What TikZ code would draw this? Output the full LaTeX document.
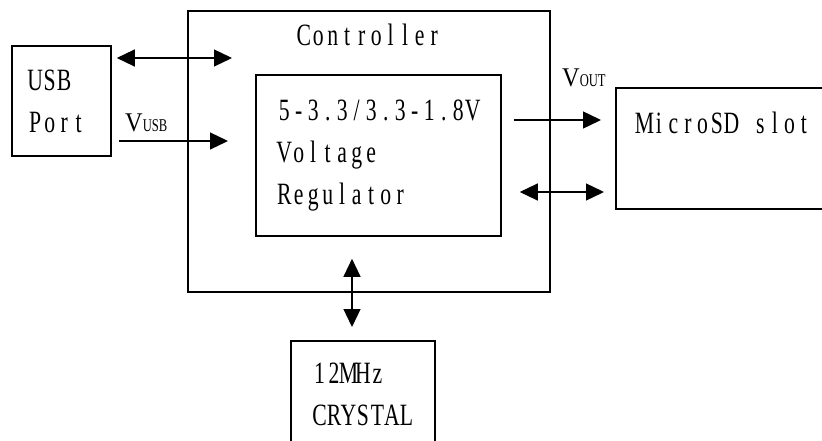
\documentclass[tikz,border=0pt]{standalone}
\usepackage{fontspec}
\setmainfont{Liberation Serif}[FakeStretch=0.7]
\newfontfamily\vfont{Liberation Serif}[FakeStretch=0.9]
\usetikzlibrary{arrows.meta}

% one fixed cell per character (typewriter-like lettering)
\ExplSyntaxOn
\NewDocumentCommand \cells { m }
  { \str_map_inline:nn {#1} { \makebox[14.5pt]{##1} } }
\ExplSyntaxOff

\begin{document}
\begin{tikzpicture}[
    x=1pt, y=-1pt,
    font=\fontsize{31}{42}\selectfont,
    block/.style={draw, line width=1.6pt, inner sep=0pt},
    arrow/.style={-{Triangle[length=18pt, width=17pt]}, line width=1.3pt},
    biarrow/.style={{Triangle[length=18pt, width=17pt]}-{Triangle[length=18pt, width=17pt]}, line width=1.3pt},
    vlabel/.style={inner sep=0pt, anchor=base west, font=\vfont\fontsize{27}{27}\selectfont},
  ]
    \useasboundingbox (0,0) rectangle (822,441);
    \clip (0,0) rectangle (822,441);

    % Blocks
    \node[block, minimum width=362pt, minimum height=281pt,
          label={[anchor=north, inner sep=0pt, yshift=-14pt]north:\cells{Controller}}] (ctrl) at (369,151.5) {};
    \node[block, minimum width=245pt, minimum height=161pt, text width=203pt, align=left] (reg) at (378.5,155.5)
         {\cells{5-3.3/3.3-1.8V}\\\cells{Voltage}\\\cells{Regulator}};
    \node[block, minimum width=99pt, minimum height=110pt, text width=67pt, align=left] (usb) at (61.5,101)
         {\cells{USB}\\\cells{Port}};
    \node[block, anchor=north west, minimum width=260pt, minimum height=121pt,
          label={[anchor=north west, inner sep=0pt, xshift=22pt, yshift=-25pt]north west:\cells{MicroSD slot}}] (sd) at (615,87) {};
    \node[block, anchor=north, text width=101.5pt, align=left, inner xsep=21.5pt, inner ysep=22pt] (xtal) at (363,340)
         {\cells{12MHz}\\\cells{CRYSTAL}};

    % Free ends inside the controller
    \coordinate (usbbus) at (232,58);
    \coordinate (vusbend) at (228,141);
    \coordinate (voutlevel) at (560,120);
    \coordinate (sdbus) at (560,192);
    \coordinate (xtalbus) at (352,300);

    % Connectors
    \draw[biarrow, shorten <=5pt] (usb.east |- usbbus) -- (usbbus);
    \draw[arrow, shorten <=7pt] (usb.east |- vusbend) -- (vusbend);
    \draw[arrow, shorten <=12pt, shorten >=14pt] (reg.east |- voutlevel) -- (sd.west |- voutlevel);
    \draw[biarrow, shorten <=18pt, shorten >=11pt] (reg.east |- sdbus) -- (sd.west |- sdbus);
    \draw[biarrow, shorten <=22pt, shorten >=13pt] (reg.south -| xtalbus) -- (xtal.north -| xtalbus);

    % Labels
    \node[vlabel] (vusb) at (125,132) {V{\rmfamily\fontsize{18}{18}\selectfont USB}};
    \node[vlabel] (vout) at (562,87) {V{\rmfamily\fontsize{18}{18}\selectfont OUT}};
  \end{tikzpicture}
\end{document}
